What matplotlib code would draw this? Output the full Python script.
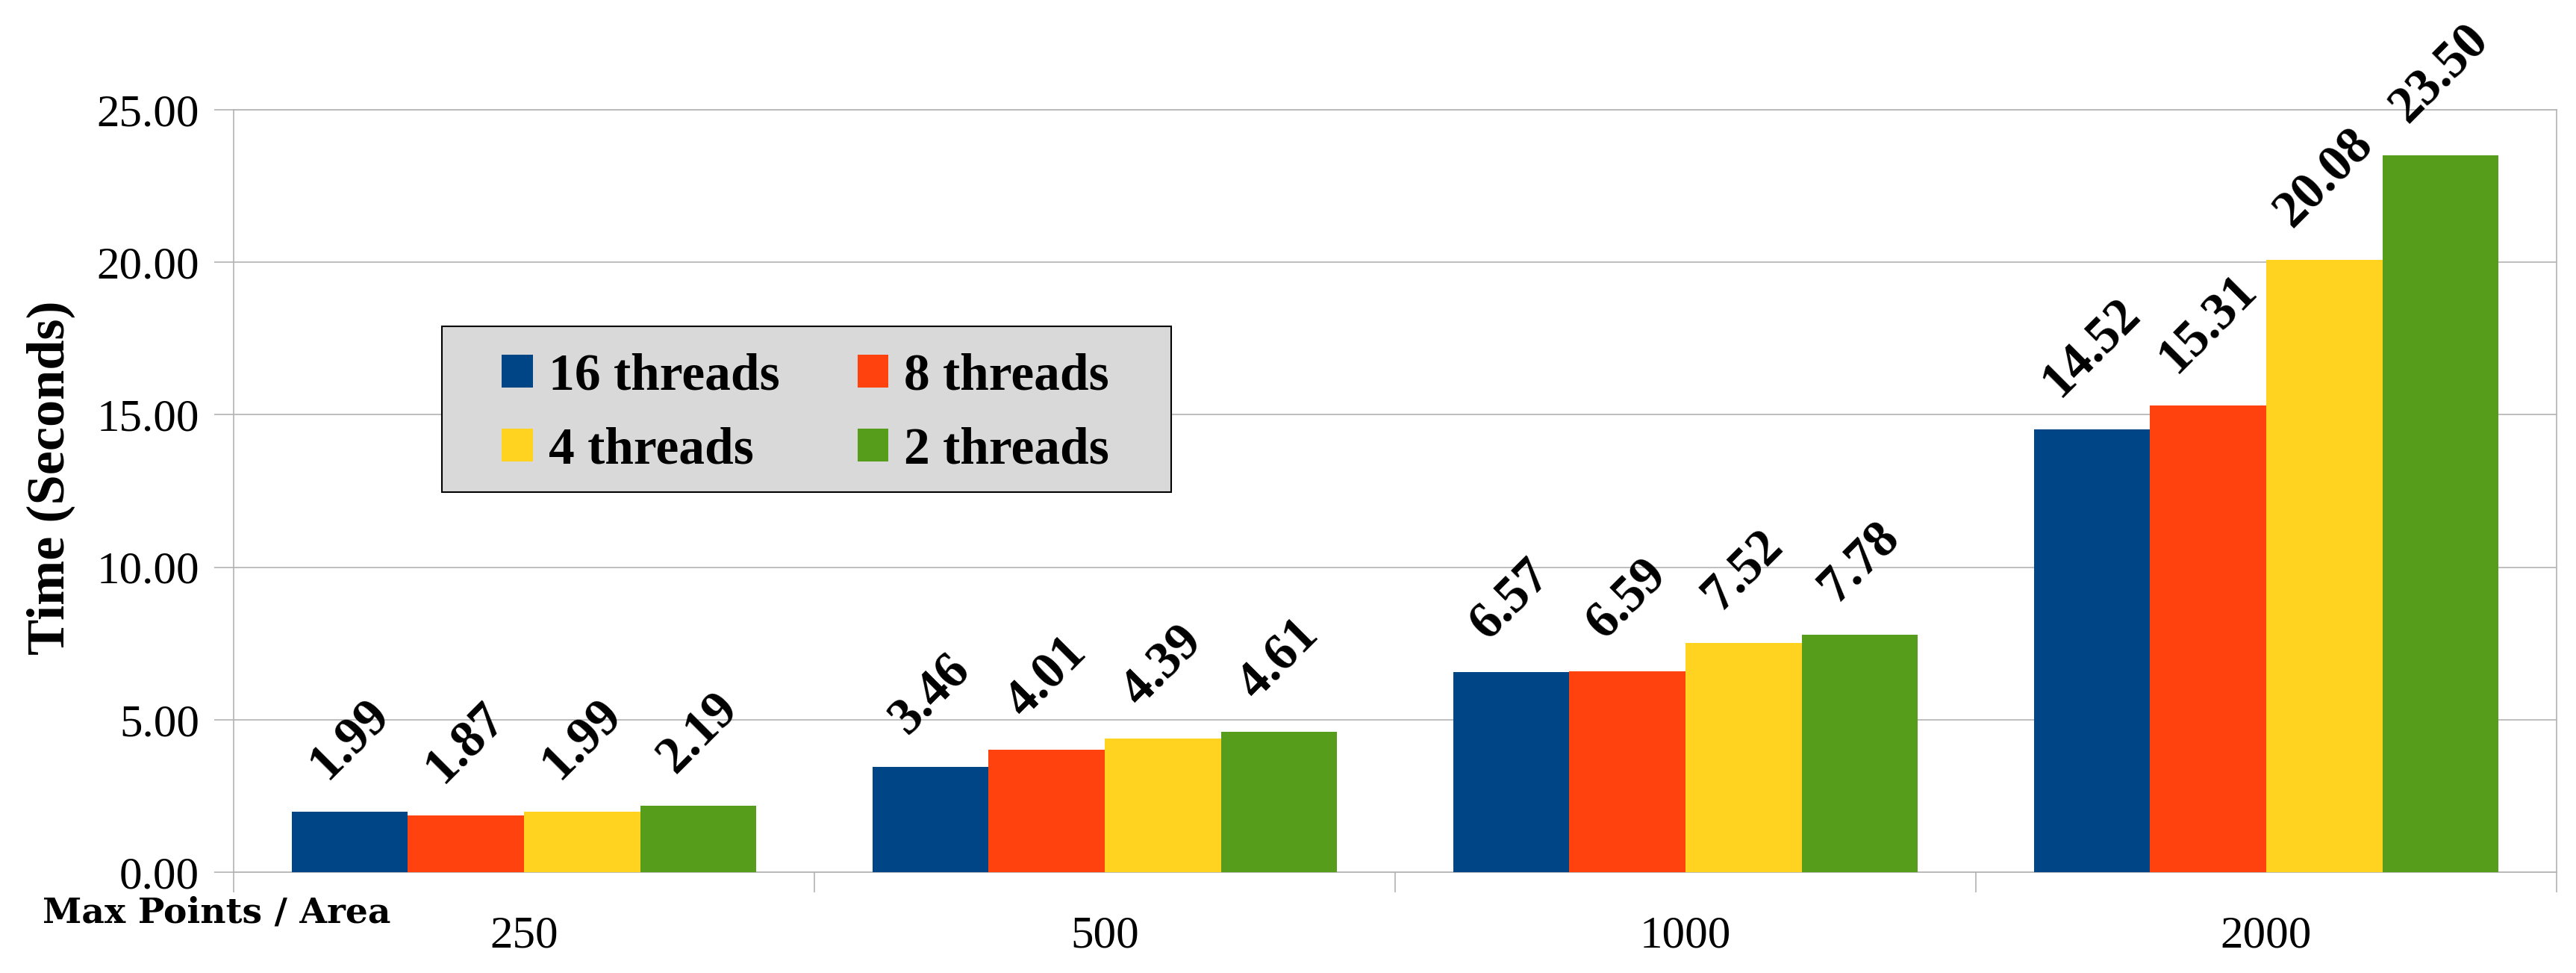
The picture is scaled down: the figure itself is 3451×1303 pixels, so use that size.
import matplotlib
matplotlib.use("Agg")
import matplotlib.pyplot as plt
from matplotlib.patches import Rectangle
import numpy as np

categories = ["250", "500", "1000", "2000"]
series_names = ["16 threads", "8 threads", "4 threads", "2 threads"]
t16 = [1.99, 3.46, 6.57, 14.52]
t8 = [1.87, 4.01, 6.59, 15.31]
t4 = [1.99, 4.39, 7.52, 20.08]
t2 = [2.19, 4.61, 7.78, 23.50]
y_ticks = [0, 5, 10, 15, 20, 25]

series = [t16, t8, t4, t2]
colors = ["#004586", "#ff420e", "#ffd320", "#579d1c"]
grid_c = "#b3b3b3"
SERIF = ["Liberation Serif", "DejaVu Serif"]

W, H = 3451, 1303
fig = plt.figure(figsize=(W / 100, H / 100), dpi=100)
L, R, T, B = 313, 3425, 147, 1168
ax = fig.add_axes([L / W, 1 - B / H, (R - L) / W, (B - T) / H])

x = np.arange(len(categories))
bw = 0.2
offs = [-0.3, -0.1, 0.1, 0.3]
bars = []
for s, name, c, o in zip(series, series_names, colors, offs):
    b = ax.bar(x + o, s, width=bw, color=c, label=name, zorder=3, linewidth=0)
    bars.append(b)
    for xi, v in zip(x + o, s):
        ax.annotate(f"{v:.2f}", xy=(xi, v), xytext=(0, 22), textcoords="offset points",
                    rotation=45, ha="center", va="bottom", fontsize=50,
                    fontweight="bold", family=SERIF, zorder=4)

ax.set_xlim(-0.5, len(categories) - 0.5)
ax.set_ylim(0, 25)
ax.set_yticks(y_ticks)
ax.set_yticklabels([f"{v:.2f}" for v in y_ticks], family=SERIF, fontsize=44)
ax.yaxis.grid(True, color=grid_c, linewidth=1.2, zorder=0)
ax.set_axisbelow(True)
ax.tick_params(axis="y", length=19, width=1.2, color=grid_c, pad=14)

ax.set_xticks(np.arange(len(categories) + 1) - 0.5)
ax.set_xticklabels([])
ax.tick_params(axis="x", which="major", length=19.5, width=1.2, color=grid_c)
ax.set_xticks(x, minor=True)
ax.set_xticklabels(categories, minor=True, family=SERIF, fontsize=44)
ax.tick_params(axis="x", which="minor", length=0, pad=42)

for sp in ax.spines.values():
    sp.set_color(grid_c)
    sp.set_linewidth(1.2)

# legend box (layout only)
bx0, by0, bx1, by1 = 592, 437, 1569, 659
ax.add_patch(Rectangle(((bx0 - L) / (R - L), (B - by1) / (B - T)),
                       (bx1 - bx0) / (R - L), (by1 - by0) / (B - T),
                       transform=ax.transAxes, facecolor="#d9d9d9", edgecolor="black",
                       linewidth=1.5, zorder=5, clip_on=False))

order = [0, 2, 1, 3]
leg = ax.legend([bars[i] for i in order], [series_names[i] for i in order],
                ncol=2, loc="center", bbox_to_anchor=((1079 - L) / (R - L), (B - 554) / (B - T)),
                prop={"family": SERIF, "weight": "bold", "size": 50},
                frameon=False, handlelength=0.6, handleheight=0.6, handletextpad=0.3,
                columnspacing=1.5, borderpad=0, labelspacing=0.5, borderaxespad=0)
leg.set_zorder(6)

fig.text(68 / W, 1 - 640 / H, "Time (Seconds)", rotation=90, ha="center", va="center",
         family=SERIF, fontweight="bold", fontsize=52)
fig.text(57 / W, 1 - 1222 / H, "Max Points / Area", ha="left", va="center",
         family=["DejaVu Serif"], fontweight="bold", fontsize=34)

fig.savefig("out.png", dpi=100, facecolor="white")
